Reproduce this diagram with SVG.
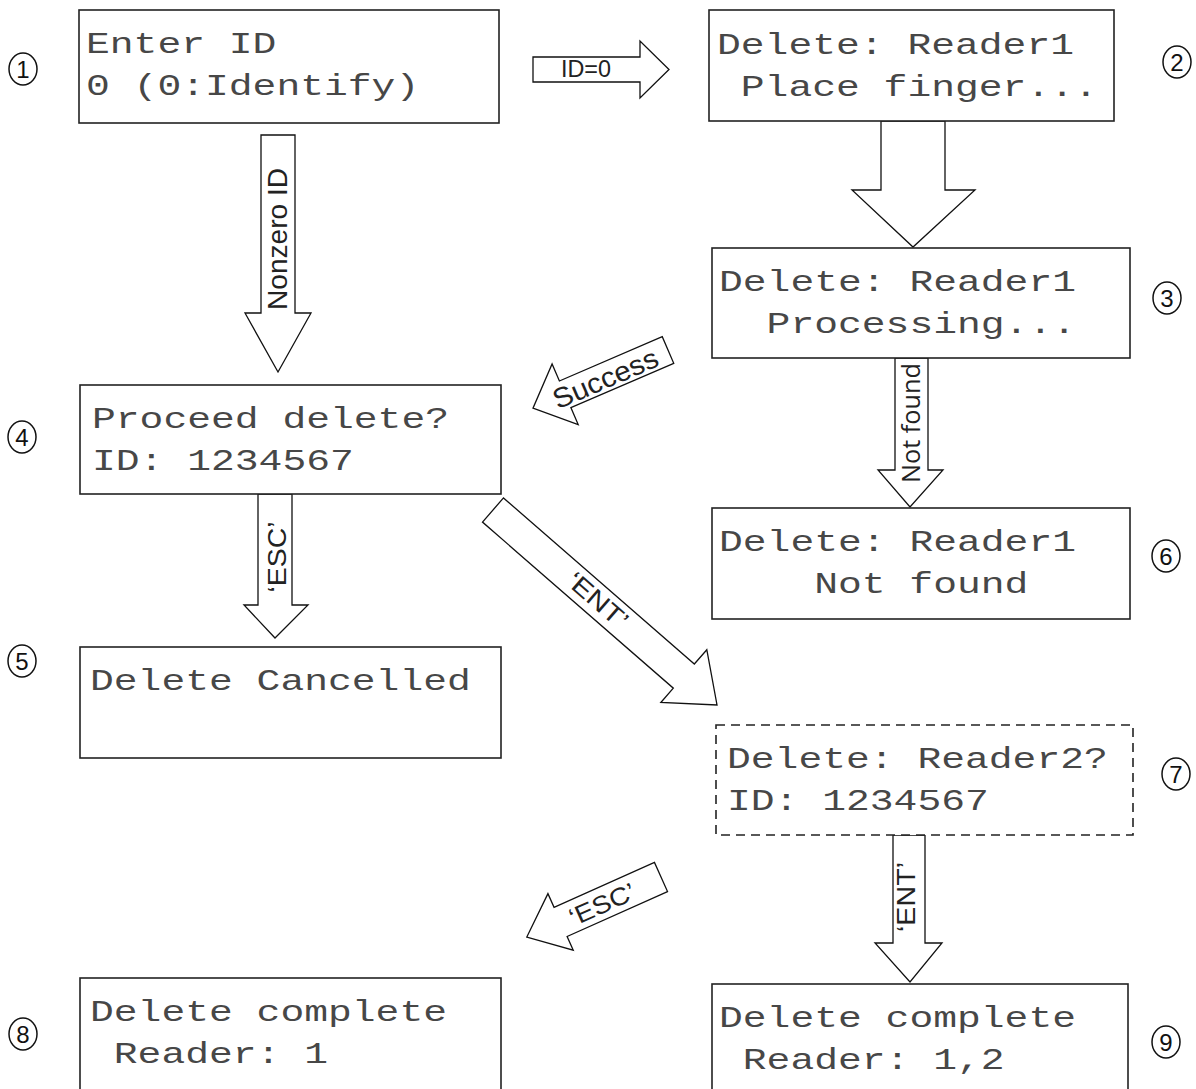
<svg xmlns="http://www.w3.org/2000/svg" width="1196" height="1089" viewBox="0 0 1196 1089">
<style>
.box{fill:#fff;stroke:#222;stroke-width:1.6}
.dash{stroke-dasharray:9 6}
.lcd{font-family:"Liberation Mono","Courier New",monospace;font-size:29px;fill:#474747}
.arr{fill:#fff;stroke:#111;stroke-width:1.3;stroke-linejoin:miter}
.lbl{font-family:"Liberation Sans",Arial,sans-serif;fill:#222;text-anchor:middle}
.nf{font-family:"Open Sans","DejaVu Sans",sans-serif;fill:#222;text-anchor:middle}
.circ{fill:#fff;stroke:#111;stroke-width:1.5}
.dig{font-family:"Liberation Sans",Arial,sans-serif;font-size:24px;fill:#111;text-anchor:middle}
</style>
<rect width="1196" height="1089" fill="#fff"/>

<g id="connectors">
  <g id="c-id0">
    <polygon class="arr" points="533,57 640,57 640,41 669,69.5 640,98 640,82 533,82"/>
    <text class="lbl" x="586" y="77" font-size="23" textLength="50" lengthAdjust="spacingAndGlyphs">ID=0</text>
  </g>
  <g id="c-nonzero">
    <polygon class="arr" points="261,135 295,135 295,313 311,313 278,372 245,313 261,313"/>
    <text class="lbl" font-size="28" textLength="142" lengthAdjust="spacingAndGlyphs" transform="translate(287,239) rotate(-90)">Nonzero ID</text>
  </g>
  <g id="c-finger">
    <polygon class="arr" points="881,121 945,121 945,190 975,190 913,247 852,190 881,190"/>
  </g>
  <g id="c-success">
    <polygon class="arr" transform="translate(668,350) rotate(156.7)" points="0,-14.5 112,-14.5 112,-33 147,0 112,33 112,14.5 0,14.5"/>
    <text class="lbl" font-size="28" textLength="112" lengthAdjust="spacingAndGlyphs" transform="translate(606,380) rotate(-23.3)" y="8">Success</text>
  </g>
  <g id="c-notfound">
    <polygon class="arr" points="895,358 928,358 928,470 943,470 910,507 878,470 895,470"/>
    <text class="nf" font-size="25" textLength="120" lengthAdjust="spacingAndGlyphs" transform="translate(920,423) rotate(-90)">Not found</text>
  </g>
  <g id="c-esc1">
    <polygon class="arr" points="258,494 292,494 292,605 308,605 275,638 244,605 258,605"/>
    <text class="lbl" font-size="25" textLength="71" lengthAdjust="spacingAndGlyphs" transform="translate(286,557) rotate(-90)">‘ESC’</text>
  </g>
  <g id="c-ent1">
    <polygon class="arr" transform="translate(493,510) rotate(41.04)" points="0,-16 253,-16 253,-35 297,0 253,35 253,16 0,16"/>
    <text class="lbl" font-size="25" textLength="72" lengthAdjust="spacingAndGlyphs" transform="translate(598,600) rotate(41.04)" y="9">‘ENT’</text>
  </g>
  <g id="c-esc2">
    <polygon class="arr" transform="translate(661,877) rotate(155.9)" points="0,-16 110,-16 110,-31 147,0 110,31 110,16 0,16"/>
    <text class="lbl" font-size="25" textLength="70" lengthAdjust="spacingAndGlyphs" transform="translate(602,904) rotate(-24.1)" y="9">‘ESC’</text>
  </g>
  <g id="c-ent2">
    <polygon class="arr" points="893,835 925,835 925,943 942,943 910,982 875,943 893,943"/>
    <text class="lbl" font-size="25" textLength="70" lengthAdjust="spacingAndGlyphs" transform="translate(915,897) rotate(-90)">‘ENT’</text>
  </g>
</g>

<g id="n1">
  <rect class="box" x="79" y="10" width="420" height="113"/>
  <text class="lcd" x="86" y="53" textLength="190.4" lengthAdjust="spacingAndGlyphs">Enter ID</text>
  <text class="lcd" x="86" y="95" textLength="333.2" lengthAdjust="spacingAndGlyphs">0 (0:Identify)</text>
  <ellipse class="circ" cx="23" cy="69" rx="14" ry="16"/>
  <text class="dig" x="23" y="78">1</text>
</g>
<g id="n2">
  <rect class="box" x="709" y="10" width="405" height="111"/>
  <text class="lcd" x="717" y="54" textLength="357" lengthAdjust="spacingAndGlyphs">Delete: Reader1</text>
  <text class="lcd" x="740.8" y="96" textLength="357" lengthAdjust="spacingAndGlyphs">Place finger...</text>
  <ellipse class="circ" cx="1177" cy="62" rx="14" ry="16"/>
  <text class="dig" x="1177" y="71">2</text>
</g>
<g id="n3">
  <rect class="box" x="712" y="248" width="418" height="110"/>
  <text class="lcd" x="719" y="291" textLength="357" lengthAdjust="spacingAndGlyphs">Delete: Reader1</text>
  <text class="lcd" x="766.6" y="333" textLength="309.4" lengthAdjust="spacingAndGlyphs">Processing...</text>
  <ellipse class="circ" cx="1167" cy="298" rx="14" ry="16"/>
  <text class="dig" x="1167" y="307">3</text>
</g>
<g id="n4">
  <rect class="box" x="80" y="385" width="421" height="109"/>
  <text class="lcd" x="92" y="428" textLength="357" lengthAdjust="spacingAndGlyphs">Proceed delete?</text>
  <text class="lcd" x="92" y="470" textLength="261.8" lengthAdjust="spacingAndGlyphs">ID: 1234567</text>
  <ellipse class="circ" cx="22" cy="437" rx="14" ry="16"/>
  <text class="dig" x="22" y="446">4</text>
</g>
<g id="n5">
  <rect class="box" x="80" y="647" width="421" height="111"/>
  <text class="lcd" x="90" y="690" textLength="380.8" lengthAdjust="spacingAndGlyphs">Delete Cancelled</text>
  <ellipse class="circ" cx="22" cy="661" rx="14" ry="16"/>
  <text class="dig" x="22" y="670">5</text>
</g>
<g id="n6">
  <rect class="box" x="712" y="508" width="418" height="111"/>
  <text class="lcd" x="719" y="551" textLength="357" lengthAdjust="spacingAndGlyphs">Delete: Reader1</text>
  <text class="lcd" x="814.2" y="593" textLength="214.2" lengthAdjust="spacingAndGlyphs">Not found</text>
  <ellipse class="circ" cx="1166" cy="556" rx="14" ry="16"/>
  <text class="dig" x="1166" y="565">6</text>
</g>
<g id="n7">
  <rect class="box dash" x="716" y="725" width="417" height="110"/>
  <text class="lcd" x="727" y="768" textLength="380.8" lengthAdjust="spacingAndGlyphs">Delete: Reader2?</text>
  <text class="lcd" x="727" y="810" textLength="261.8" lengthAdjust="spacingAndGlyphs">ID: 1234567</text>
  <ellipse class="circ" cx="1176" cy="774" rx="14" ry="16"/>
  <text class="dig" x="1176" y="783">7</text>
</g>
<g id="n8">
  <rect class="box" x="80" y="978" width="421" height="120"/>
  <text class="lcd" x="90" y="1021" textLength="357" lengthAdjust="spacingAndGlyphs">Delete complete</text>
  <text class="lcd" x="113.8" y="1063" textLength="214.2" lengthAdjust="spacingAndGlyphs">Reader: 1</text>
  <ellipse class="circ" cx="23" cy="1034" rx="14" ry="16"/>
  <text class="dig" x="23" y="1043">8</text>
</g>
<g id="n9">
  <rect class="box" x="712" y="984" width="416" height="120"/>
  <text class="lcd" x="719" y="1027" textLength="357" lengthAdjust="spacingAndGlyphs">Delete complete</text>
  <text class="lcd" x="742.8" y="1069" textLength="261.8" lengthAdjust="spacingAndGlyphs">Reader: 1,2</text>
  <ellipse class="circ" cx="1166" cy="1042" rx="14" ry="16"/>
  <text class="dig" x="1166" y="1051">9</text>
</g>
</svg>
